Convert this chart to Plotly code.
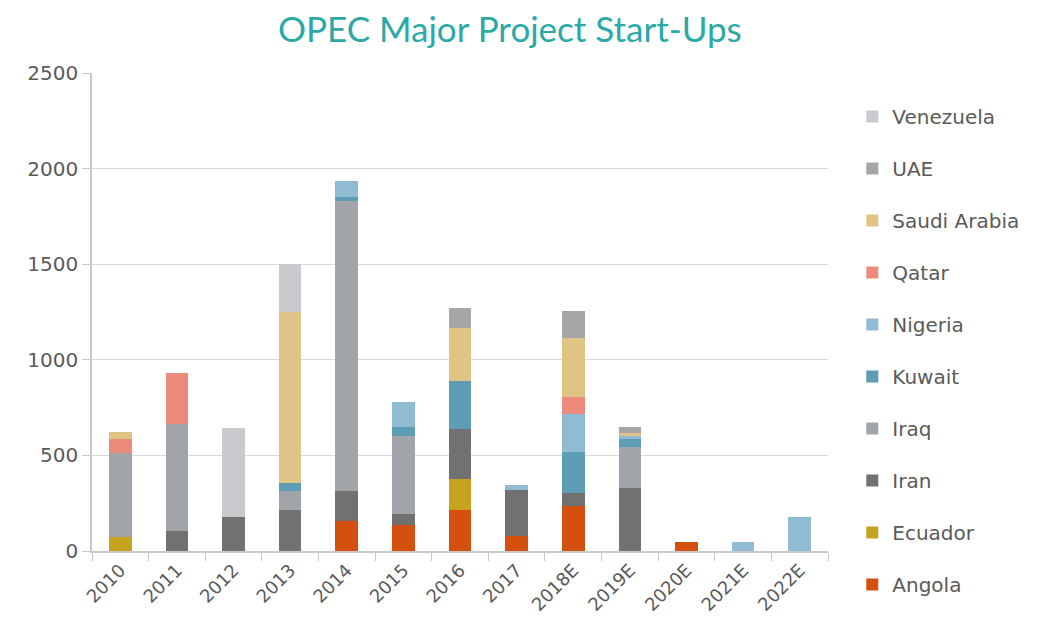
import plotly.graph_objects as go

years = ["2010", "2011", "2012", "2013", "2014", "2015", "2016", "2017",
         "2018E", "2019E", "2020E", "2021E", "2022E"]

angola = [0, 0, 0, 0, 158, 138, 215, 78, 235, 0, 45, 0, 0]
ecuador = [75, 0, 0, 0, 0, 0, 161, 0, 0, 0, 0, 0, 0]
iran = [0, 105, 178, 216, 157, 57, 262, 241, 68, 329, 0, 0, 0]
iraq = [440, 560, 0, 100, 1515, 409, 0, 0, 0, 215, 0, 0, 0]
kuwait = [0, 0, 0, 40, 20, 45, 251, 0, 215, 40, 0, 0, 0]
nigeria = [0, 0, 0, 0, 85, 131, 0, 26, 198, 15, 0, 45, 178]
qatar = [70, 265, 0, 0, 0, 0, 0, 0, 89, 0, 0, 0, 0]
saudi = [40, 0, 0, 895, 0, 0, 277, 0, 309, 20, 0, 0, 0]
uae = [0, 0, 0, 0, 0, 0, 105, 0, 141, 27, 0, 0, 0]
venezuela = [0, 0, 465, 250, 0, 0, 0, 0, 0, 0, 0, 0, 0]

series = [
    ("Angola", angola, "#d4500e"),
    ("Ecuador", ecuador, "#c6a31f"),
    ("Iran", iran, "#717171"),
    ("Iraq", iraq, "#a1a4a9"),
    ("Kuwait", kuwait, "#5e9db6"),
    ("Nigeria", nigeria, "#8fbcd3"),
    ("Qatar", qatar, "#ec8b7c"),
    ("Saudi Arabia", saudi, "#e0c485"),
    ("UAE", uae, "#a6a6a6"),
    ("Venezuela", venezuela, "#c9cacd"),
]

fig = go.Figure()
n = len(series)
for i, (name, vals, color) in enumerate(series):
    fig.add_trace(go.Bar(
        x=years, y=vals, name=name, legendgroup=name, legendrank=n - i,
        marker=dict(color=color, line=dict(width=0)),
    ))

W, H = 1037, 634
fig.update_layout(
    width=W, height=H,
    barmode="stack", bargap=0.6,
    paper_bgcolor="white", plot_bgcolor="white",
    margin=dict(l=84, r=217, t=65, b=91),
    font=dict(family="DejaVu Sans, sans-serif", color="#5a5a5a"),
    title=dict(text="OPEC Major Project Start-Ups", x=0.484, xanchor="center",
               y=0.965, yanchor="middle",
               font=dict(family="Lato, sans-serif", size=35, color="#2aa9a6")),
    legend=dict(traceorder="grouped", tracegroupgap=23,
                x=1.033, xanchor="left", y=0.95, yanchor="top",
                font=dict(size=20, color="#5a5a5a"),
                itemwidth=30, maxheight=600),
    xaxis=dict(type="category", showline=True, linecolor="#c8c8c8", linewidth=1.5,
               ticks="outside", tickson="boundaries", ticklen=8, tickcolor="#c8c8c8",
               tickangle=-45, tickfont=dict(size=18, color="#5a5a5a")),
    yaxis=dict(range=[0, 2500], dtick=500, showgrid=True, gridcolor="#d9d9d9",
               showline=True, linecolor="#c8c8c8", linewidth=1.5,
               ticks="outside", ticklen=8, tickcolor="#c8c8c8",
               tickfont=dict(size=20, color="#5a5a5a"), zeroline=False),
)

fig.write_html("out.html")
